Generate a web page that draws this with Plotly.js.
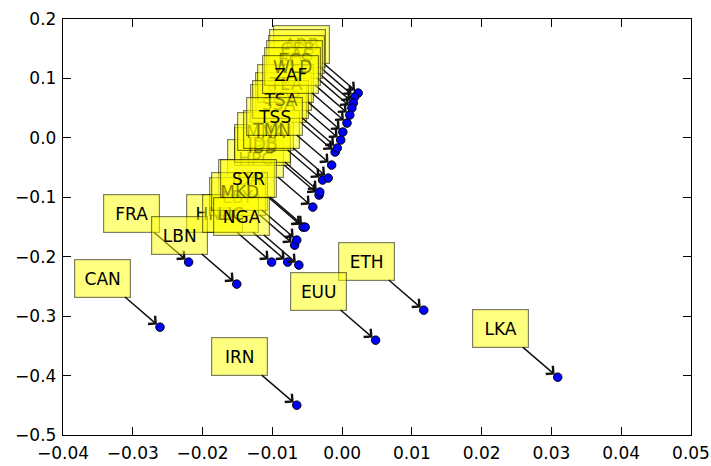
<!DOCTYPE html>
<html>
<head>
<meta charset="utf-8">
<script src="https://cdn.plot.ly/plotly-3.0.1.min.js"></script>
<style>
  html, body { margin: 0; padding: 0; background: #fff; }
  #chart { width: 711px; height: 466px; }
</style>
</head>
<body>
<div id="chart"></div>
<script>
// Country / aggregate codes (drawn in this order, later on top)
const labels = ["ARB","CAN","CEB","EAS","ECS","ETH","EUU","FRA","HND","HPC",
                "IBD","IDA","IDB","IRN","LBN","LBY","LIC","LKA","MKD","MNA",
                "NGA","SAS","SSA","SYR","TEA","TMN","TSA","TSS","WLD","ZAF"];
const xValues = [0.0023, -0.0261, 0.0018, 0.0016, 0.0014, 0.0117, 0.0048, -0.0220, -0.0101, -0.0042,
                 -0.0033, -0.0056, -0.0032, -0.0065, -0.0151, -0.0068, -0.0078, 0.0309, -0.0065, -0.0028,
                 -0.0062, -0.0002, -0.0010, -0.0053, 0.0001, -0.0020, -0.0007, -0.0015, 0.0011, 0.0007];
const yValues = [0.0754, -0.3185, 0.0687, 0.0586, 0.0502, -0.2899, -0.3404, -0.2091, -0.2091, -0.1165,
                 -0.0963, -0.1502, -0.0912, -0.4498, -0.2461, -0.1805, -0.2091, -0.4027, -0.1720, -0.0710,
                 -0.2141, -0.0037, -0.0239, -0.1502, 0.0098, -0.0677, -0.0172, -0.0458, 0.0384, 0.0249];
const xTickVals = [-0.04, -0.03, -0.02, -0.01, 0.00, 0.01, 0.02, 0.03, 0.04, 0.05];
const yTickVals = [-0.5, -0.4, -0.3, -0.2, -0.1, 0.0, 0.1, 0.2];

const font = 'DejaVu Sans, sans-serif';

const trace = {
  x: xValues, y: yValues, type: 'scatter', mode: 'markers',
  marker: { color: '#0000ff', size: 8.5, line: { color: '#000', width: 1 } },
  cliponaxis: false, hoverinfo: 'skip', showlegend: false
};

const annotations = labels.map((t, i) => ({
  x: xValues[i], y: yValues[i], xref: 'x', yref: 'y',
  text: t, showarrow: true, ax: -57, ay: -49,
  arrowhead: 4, arrowsize: 1.4, arrowwidth: 1.5, arrowcolor: '#111', standoff: 4,
  bgcolor: 'rgba(255,255,0,0.5)', bordercolor: 'rgba(0,0,0,0.5)',
  borderwidth: 1.2, borderpad: 5, width: 45, height: 27,
  font: { family: font, size: 17, color: '#000' }
}));

const axisCommon = {
  showgrid: false, zeroline: false, showline: true, linecolor: '#000', linewidth: 1.2,
  mirror: 'ticks', ticks: 'inside', ticklen: 8, tickwidth: 1, tickcolor: '#000',
  tickfont: { family: font, size: 17, color: '#000' }
};

const layout = {
  width: 711, height: 466,
  margin: { l: 63, r: 20, t: 19, b: 31 },
  paper_bgcolor: '#fff', plot_bgcolor: '#fff',
  xaxis: Object.assign({}, axisCommon, {
    range: [-0.04, 0.05], tickvals: xTickVals, tickformat: '.2f', ticklabelstandoff: 2
  }),
  yaxis: Object.assign({}, axisCommon, {
    range: [-0.5, 0.2], tickvals: yTickVals, tickformat: '.1f', ticklabelstandoff: 2
  }),
  annotations: annotations,
  showlegend: false
};

Plotly.newPlot('chart', [trace], layout, { displayModeBar: false, staticPlot: true });
</script>
</body>
</html>
